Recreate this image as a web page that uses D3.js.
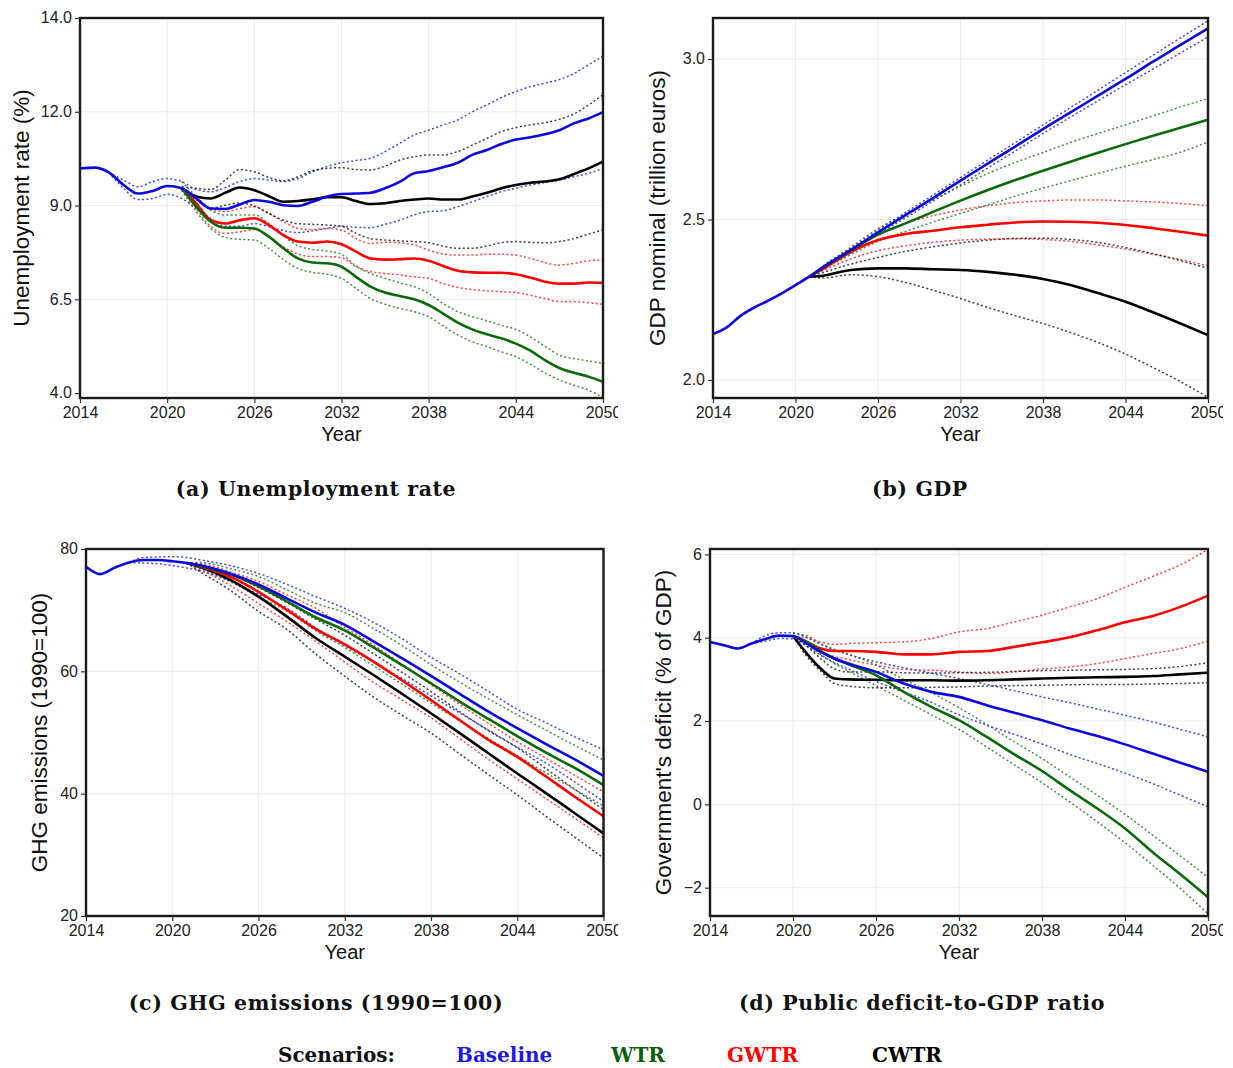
<!DOCTYPE html>
<html>
<head>
<meta charset="utf-8">
<script src="https://cdn.jsdelivr.net/npm/d3@7"></script>
<style>
  body { margin: 0; background: #fff; }
  svg { display: block; }
</style>
</head>
<body>
<svg id="chart" width="1233" height="1068"></svg>
<script>
// ---- shared ----
const scenarios = ["Baseline", "WTR", "GWTR", "CWTR"];
const lineColors = ["#0a0ae0", "#0a6a0a", "#ff0000", "#000000"];
const legendColors = ["#1a1ae6", "#0b5e0b", "#ff0000", "#000000"];
const xTicks = [2014, 2020, 2026, 2032, 2038, 2044, 2050];

// ---- (a) Unemployment rate ----
const yearsA = [2014,2015,2016,2017,2018,2019,2020,2021,2022,2023,2024,2025,2026,2027,2028,2029,2030,2031,2032,
  2033,2034,2035,2036,2037,2038,2039,2040,2041,2042,2043,2044,2045,2046,2047,2048,2049,2050];
const N = null;
const baseA = [9.99,10.01,9.88,9.55,9.32,9.39,9.52,9.46,9.19,8.92,8.91,9.03,9.15,9.10,9.01,8.99,9.10,9.24,9.31,
  9.32,9.34,9.46,9.63,9.86,9.92,10.02,10.14,10.35,10.48,10.64,10.76,10.82,10.90,11.01,11.19,11.32,11.49];
const baseHiA = [N,N,9.88,9.68,9.50,9.64,9.72,9.64,9.43,9.37,9.48,9.64,9.72,9.68,9.64,9.72,9.90,10.04,10.14,
  10.20,10.26,10.44,10.66,10.88,11.01,11.15,11.28,11.50,11.68,11.88,12.04,12.17,12.26,12.36,12.52,12.75,12.99];
const baseLoA = [N,N,9.88,9.46,9.16,9.19,9.30,9.19,8.92,8.66,8.45,8.45,8.52,8.44,8.33,8.28,8.33,8.39,8.45,
  8.42,8.41,8.50,8.61,8.75,8.84,8.86,8.97,9.10,9.24,9.37,9.46,9.55,9.61,9.68,9.77,9.86,9.99];
const wtrA = [N,N,N,N,N,N,N,9.46,8.97,8.57,8.41,8.41,8.39,8.17,7.86,7.59,7.48,7.46,7.37,
  7.10,6.84,6.68,6.59,6.50,6.35,6.12,5.88,5.70,5.57,5.46,5.32,5.13,4.88,4.67,4.54,4.44,4.30];
const wtrHiA = [N,N,N,N,N,N,N,9.64,9.24,8.88,8.75,8.75,8.75,8.52,8.19,7.93,7.83,7.79,7.70,
  7.39,7.19,7.06,6.94,6.84,6.66,6.39,6.17,6.04,5.93,5.81,5.70,5.50,5.25,5.01,4.92,4.86,4.79];
const wtrLoA = [N,N,N,N,N,N,N,9.41,8.84,8.39,8.15,8.10,8.08,7.86,7.56,7.32,7.22,7.17,7.06,
  6.79,6.52,6.37,6.26,6.17,6.04,5.79,5.55,5.37,5.24,5.10,4.97,4.77,4.54,4.35,4.21,4.08,3.88];
const gwtrA = [N,N,N,N,N,N,N,9.46,9.06,8.61,8.52,8.61,8.66,8.48,8.21,8.04,8.01,8.04,7.97,
  7.77,7.59,7.56,7.57,7.59,7.53,7.39,7.26,7.22,7.21,7.21,7.17,7.08,6.97,6.92,6.92,6.95,6.94];
const gwtrHiA = [N,N,N,N,N,N,N,9.46,9.24,8.90,8.84,8.92,8.97,8.79,8.57,8.39,8.36,8.39,8.35,
  8.12,7.99,8.02,8.01,7.95,7.81,7.71,7.68,7.68,7.70,7.70,7.68,7.59,7.48,7.41,7.46,7.53,7.55];
const gwtrLoA = [N,N,N,N,N,N,N,9.46,8.92,8.44,8.26,8.30,8.36,8.17,7.90,7.71,7.64,7.64,7.61,
  7.37,7.24,7.19,7.15,7.10,7.06,6.92,6.82,6.76,6.73,6.70,6.68,6.61,6.52,6.44,6.44,6.41,6.37];
const cwtrA = [N,N,N,N,N,N,N,9.46,9.24,9.19,9.34,9.48,9.41,9.25,9.10,9.12,9.17,9.22,9.22,
  9.12,9.04,9.06,9.12,9.16,9.19,9.16,9.16,9.24,9.34,9.46,9.55,9.61,9.64,9.70,9.84,9.99,10.17];
const cwtrHiA = [N,N,N,N,N,N,N,9.50,9.46,9.43,9.68,9.96,9.90,9.75,9.66,9.77,9.93,9.99,10.01,
  9.96,9.95,10.05,10.21,10.30,10.35,10.35,10.44,10.61,10.79,10.97,11.08,11.15,11.21,11.30,11.44,11.68,11.95];
const cwtrLoA = [N,N,N,N,N,N,N,9.41,9.15,8.92,9.01,9.07,8.99,8.79,8.61,8.52,8.50,8.48,8.45,
  8.26,8.12,8.08,8.06,8.04,8.01,7.92,7.86,7.86,7.92,8.01,8.04,8.02,8.01,8.04,8.12,8.24,8.35];
const yTicksA = [4, 6.5, 9, 11.5, 14];
const yTickLabelsA = ["4.0", "6.5", "9.0", "12.0", "14.0"];

// ---- (b) GDP ----
const yearsB = [2014,2015,2016,2017,2018,2019,2020,2021,2022,2024,2026,2028,2030,2032,2034,2036,2038,2040,2042,2044,2046,2048,2050];
const baseB = [2.143,2.164,2.200,2.226,2.247,2.270,2.296,2.322,2.351,2.405,2.460,2.514,2.567,2.621,2.675,2.728,2.782,2.834,2.886,2.938,2.992,3.044,3.096];
const baseHiB = [N,N,N,N,N,N,N,2.322,2.353,2.409,2.467,2.522,2.576,2.631,2.686,2.740,2.795,2.849,2.903,2.958,3.012,3.066,3.119];
const baseLoB = [N,N,N,N,N,N,N,2.322,2.349,2.401,2.455,2.505,2.557,2.608,2.661,2.714,2.768,2.819,2.870,2.920,2.969,3.019,3.069];
const wtrB = [N,N,N,N,N,N,N,2.322,2.351,2.403,2.453,2.488,2.524,2.559,2.592,2.623,2.652,2.680,2.708,2.735,2.761,2.786,2.811];
const wtrHiB = [N,N,N,N,N,N,N,2.322,2.356,2.413,2.472,2.517,2.562,2.604,2.644,2.678,2.709,2.740,2.768,2.795,2.823,2.851,2.877];
const wtrLoB = [N,N,N,N,N,N,N,2.322,2.346,2.390,2.432,2.463,2.492,2.519,2.546,2.573,2.598,2.621,2.644,2.666,2.687,2.710,2.742];
const gwtrB = [N,N,N,N,N,N,N,2.322,2.346,2.398,2.436,2.455,2.465,2.476,2.484,2.491,2.494,2.493,2.490,2.483,2.473,2.462,2.450];
const gwtrHiB = [N,N,N,N,N,N,N,2.322,2.351,2.408,2.455,2.488,2.512,2.530,2.543,2.553,2.558,2.561,2.561,2.558,2.555,2.550,2.543];
const gwtrLoB = [N,N,N,N,N,N,N,2.322,2.341,2.377,2.403,2.418,2.429,2.436,2.439,2.440,2.438,2.432,2.421,2.408,2.392,2.375,2.356];
const cwtrB = [N,N,N,N,N,N,N,2.322,2.325,2.343,2.348,2.348,2.345,2.343,2.337,2.328,2.315,2.296,2.271,2.244,2.211,2.176,2.140];
const cwtrHiB = [N,N,N,N,N,N,N,2.322,2.335,2.361,2.382,2.401,2.415,2.427,2.436,2.441,2.442,2.438,2.429,2.413,2.394,2.372,2.348];
const cwtrLoB = [N,N,N,N,N,N,N,2.322,2.318,2.328,2.322,2.304,2.280,2.254,2.226,2.200,2.176,2.148,2.117,2.081,2.039,1.995,1.946];
const yTicksB = [2.0, 2.5, 3.0];
const yTickLabelsB = ["2.0", "2.5", "3.0"];

// ---- (c) GHG emissions ----
const yearsC = yearsB;
const baseC = [77.1,75.9,76.95,77.8,78.2,78.2,78.0,77.7,77.3,76.0,74.2,71.9,69.6,67.6,64.9,62.1,59.25,56.3,53.4,50.7,48.1,45.6,42.9];
const baseHiC = [N,N,N,77.8,78.6,78.7,78.75,78.6,78.2,77.3,76.0,74.2,72.2,70.3,68.0,65.3,62.3,59.6,56.7,53.8,51.6,49.3,47.2];
const baseLoC = [N,N,N,77.8,77.7,77.6,77.3,76.9,76.4,74.8,72.6,70.3,67.1,64.2,61.5,58.8,56.0,53.2,50.4,47.6,45.0,41.9,38.7];
const wtrC = [N,N,N,N,N,N,N,77.7,77.2,75.9,73.9,71.4,68.8,66.7,63.9,61.0,58.05,55.05,52.2,49.4,46.7,44.2,41.4];
const wtrHiC = [N,N,N,N,N,N,N,77.7,77.8,76.8,75.5,73.3,71.1,69.6,67.0,64.2,61.1,58.2,55.5,52.9,50.4,47.9,45.5];
const wtrLoC = [N,N,N,N,N,N,N,77.7,76.8,74.7,72.2,69.8,66.6,63.9,60.9,57.9,54.8,51.9,49.0,46.2,43.4,40.7,38.0];
const gwtrC = [N,N,N,N,N,N,N,77.7,77.1,75.5,73.0,70.0,66.9,64.4,61.6,58.5,55.3,52.0,48.8,46.0,42.8,39.5,36.3];
const gwtrHiC = [N,N,N,N,N,N,N,77.7,77.6,76.3,74.7,72.5,70.3,67.2,64.3,61.1,57.8,54.6,51.5,48.5,45.8,43.0,40.3];
const gwtrLoC = [N,N,N,N,N,N,N,77.7,76.6,74.1,71.1,68.1,64.9,61.5,58.2,55.3,52.4,49.0,45.6,42.4,39.2,36.0,32.8];
const cwtrC = [N,N,N,N,N,N,N,77.7,77.0,75.0,72.2,68.9,65.4,62.4,59.4,56.3,53.15,49.9,46.6,43.3,40.1,36.8,33.5];
const cwtrHiC = [N,N,N,N,N,N,N,77.7,77.4,75.9,73.7,71.2,68.5,65.9,62.9,59.8,56.7,53.4,50.3,47.5,44.1,40.7,37.4];
const cwtrLoC = [N,N,N,N,N,N,N,77.7,76.2,73.3,69.8,66.8,62.8,59.2,55.8,52.8,49.9,46.5,43.1,39.8,36.3,32.9,29.5];
const yTicksC = [20, 40, 60, 80];
const yTickLabelsC = ["20", "40", "60", "80"];

// ---- (d) Public deficit-to-GDP ratio ----
const yearsD = [2014,2015,2016,2017,2018,2019,2020,2021,2022,2023,2024,2026,2028,2030,2032,2034,2036,2038,2040,2042,2044,2046,2048,2050];
const baseD = [3.90,3.82,3.74,3.86,3.97,4.05,4.04,3.86,3.66,3.50,3.38,3.18,2.90,2.70,2.58,2.38,2.20,2.02,1.82,1.64,1.44,1.22,1.00,0.78];
const baseHiD = [N,N,N,3.86,4.05,4.12,4.12,4.00,3.85,3.70,3.60,3.42,3.28,3.15,3.02,2.88,2.73,2.58,2.44,2.29,2.14,1.98,1.80,1.62];
const baseLoD = [N,N,N,3.86,3.92,3.98,3.97,3.80,3.58,3.40,3.25,2.95,2.70,2.45,2.15,1.90,1.68,1.45,1.20,0.98,0.75,0.50,0.22,-0.06];
const wtrD = [N,N,N,N,N,N,4.04,3.90,3.68,3.50,3.36,3.10,2.70,2.34,2.02,1.62,1.20,0.80,0.34,-0.10,-0.58,-1.15,-1.68,-2.23];
const wtrHiD = [N,N,N,N,N,N,4.10,4.05,3.85,3.72,3.60,3.35,3.00,2.68,2.32,1.92,1.50,1.10,0.66,0.22,-0.24,-0.74,-1.24,-1.75];
const wtrLoD = [N,N,N,N,N,N,4.00,3.85,3.60,3.38,3.20,2.85,2.50,2.15,1.80,1.38,0.95,0.52,0.06,-0.42,-0.92,-1.46,-2.02,-2.63];
const gwtrD = [N,N,N,N,N,N,4.04,3.90,3.74,3.68,3.68,3.66,3.60,3.60,3.66,3.68,3.78,3.89,4.01,4.18,4.37,4.52,4.74,5.01];
const gwtrHiD = [N,N,N,N,N,N,4.04,4.00,3.90,3.84,3.86,3.88,3.90,3.98,4.14,4.22,4.38,4.54,4.74,4.94,5.21,5.47,5.75,6.12];
const gwtrLoD = [N,N,N,N,N,N,4.04,3.85,3.65,3.55,3.48,3.34,3.24,3.22,3.18,3.14,3.18,3.25,3.30,3.38,3.50,3.62,3.74,3.92];
const cwtrD = [N,N,N,N,N,N,4.04,3.62,3.26,3.02,3.00,2.99,2.98,2.98,2.97,2.98,3.00,3.02,3.04,3.05,3.06,3.08,3.12,3.16];
const cwtrHiD = [N,N,N,N,N,N,4.04,3.80,3.50,3.25,3.18,3.18,3.16,3.15,3.16,3.17,3.19,3.21,3.22,3.23,3.24,3.26,3.31,3.40];
const cwtrLoD = [N,N,N,N,N,N,4.04,3.55,3.20,2.90,2.84,2.80,2.80,2.81,2.82,2.84,2.85,2.86,2.87,2.88,2.88,2.89,2.90,2.92];
const yTicksD = [-2, 0, 2, 4, 6];
const yTickLabelsD = ["\u22122", "0", "2", "4", "6"];

const svg = d3.select("#chart");
const sans = "'Liberation Sans', Arial, sans-serif";
const serif = "'DejaVu Serif', 'Liberation Serif', serif";

function drawPanel(p) {
  const g = svg.append("g").attr("clip-path", `url(#${p.id}-clip)`);
  svg.append("clipPath").attr("id", p.id + "-clip")
    .append("rect").attr("x", p.box.left - 80).attr("y", p.box.top - 10)
    .attr("width", p.clipRight - p.box.left + 80).attr("height", p.box.bottom - p.box.top + 70);

  const x = d3.scaleLinear().domain([2014, 2050]).range([p.box.left, p.box.right]);
  const y = d3.scaleLinear().domain(p.yDomain).range([p.box.bottom, p.box.top]);

  // grid
  g.append("g").selectAll("line").data(xTicks).join("line")
    .attr("x1", d => x(d)).attr("x2", d => x(d))
    .attr("y1", p.box.top).attr("y2", p.box.bottom)
    .attr("stroke", "#ececec").attr("stroke-width", 1);
  g.append("g").selectAll("line").data(p.yTicks).join("line")
    .attr("x1", p.box.left).attr("x2", p.box.right)
    .attr("y1", d => y(d)).attr("y2", d => y(d))
    .attr("stroke", "#ececec").attr("stroke-width", 1);

  const line = d3.line()
    .defined(d => d[1] != null)
    .x(d => x(d[0])).y(d => y(d[1]))
    .curve(d3.curveMonotoneX);
  const pts = arr => p.years.map((yr, i) => [yr, arr[i]]);

  // dotted bounds
  p.series.forEach((s, k) => {
    [s.hi, s.lo].forEach(arr => {
      g.append("path").attr("d", line(pts(arr)))
        .attr("fill", "none").attr("stroke", lineColors[k])
        .attr("stroke-width", 1.5).attr("stroke-opacity", 0.75)
        .attr("stroke-dasharray", "2,2.4");
    });
    const last = p.years.length - 1;
    g.append("line")
      .attr("x1", x(2050)).attr("x2", x(2050))
      .attr("y1", y(s.hi[last])).attr("y2", y(s.lo[last]))
      .attr("stroke", lineColors[k]).attr("stroke-width", 1.5)
      .attr("stroke-opacity", 0.75).attr("stroke-dasharray", "2,2.4");
  });
  // mean lines, baseline drawn last
  [3, 2, 1, 0].forEach(k => {
    g.append("path").attr("d", line(pts(p.series[k].mean)))
      .attr("fill", "none").attr("stroke", lineColors[k])
      .attr("stroke-width", 2.6).attr("stroke-linejoin", "round");
  });

  // frame
  g.append("rect")
    .attr("x", p.box.left).attr("y", p.box.top)
    .attr("width", p.box.right - p.box.left).attr("height", p.box.bottom - p.box.top)
    .attr("fill", "none").attr("stroke", "#1a1a1a").attr("stroke-width", 2.4);

  // axes
  const ax = g.append("g").attr("transform", `translate(0,${p.box.bottom})`)
    .call(d3.axisBottom(x).tickValues(xTicks).tickFormat(d3.format("d")).tickSize(5).tickPadding(4));
  const ay = g.append("g").attr("transform", `translate(${p.box.left},0)`)
    .call(d3.axisLeft(y).tickValues(p.yTicks).tickFormat((d, i) => p.yLabels[i]).tickSize(5).tickPadding(3));
  [ax, ay].forEach(a => {
    a.select(".domain").remove();
    a.selectAll(".tick line").attr("stroke", "#333").attr("stroke-width", 1.2);
    a.selectAll(".tick text").attr("fill", "#222")
      .style("font-family", sans).style("font-size", "16px");
  });
  ay.selectAll(".tick text").attr("dy", "0.30em");

  g.append("text")
    .attr("x", (p.box.left + p.box.right) / 2).attr("y", p.box.bottom + 43)
    .attr("text-anchor", "middle").attr("fill", "#111")
    .style("font-family", sans).style("font-size", "20px").text("Year");
  g.append("text")
    .attr("transform", `translate(${p.titleX},${(p.box.top + p.box.bottom) / 2}) rotate(-90)`)
    .attr("text-anchor", "middle").attr("fill", "#111")
    .style("font-family", sans).style("font-size", "22.5px").text(p.yTitle);

  svg.append("text")
    .attr("x", p.captionX).attr("y", p.captionY)
    .attr("text-anchor", "middle").attr("fill", "#111")
    .style("font-family", serif).style("font-weight", "bold").style("font-size", "20.5px")
    .style("letter-spacing", "0.6px")
    .text(p.caption);
}

drawPanel({
  id: "pa", years: yearsA, yDomain: [3.87, 14], yTicks: yTicksA, yLabels: yTickLabelsA,
  box: { left: 80, right: 603, top: 18, bottom: 398 }, clipRight: 618,
  series: [
    { mean: baseA, hi: baseHiA, lo: baseLoA },
    { mean: wtrA, hi: wtrHiA, lo: wtrLoA },
    { mean: gwtrA, hi: gwtrHiA, lo: gwtrLoA },
    { mean: cwtrA, hi: cwtrHiA, lo: cwtrLoA }
  ],
  yTitle: "Unemployment rate (%)", titleX: 29,
  caption: "(a) Unemployment rate", captionX: 316, captionY: 496
});
drawPanel({
  id: "pb", years: yearsB, yDomain: [1.944, 3.128], yTicks: yTicksB, yLabels: yTickLabelsB,
  box: { left: 713, right: 1208, top: 18, bottom: 398 }, clipRight: 1223,
  series: [
    { mean: baseB, hi: baseHiB, lo: baseLoB },
    { mean: wtrB, hi: wtrHiB, lo: wtrLoB },
    { mean: gwtrB, hi: gwtrHiB, lo: gwtrLoB },
    { mean: cwtrB, hi: cwtrHiB, lo: cwtrLoB }
  ],
  yTitle: "GDP nominal (trillion euros)", titleX: 665,
  caption: "(b) GDP", captionX: 920, captionY: 496
});
drawPanel({
  id: "pc", years: yearsC, yDomain: [20, 80], yTicks: yTicksC, yLabels: yTickLabelsC,
  box: { left: 86, right: 603.5, top: 549, bottom: 916 }, clipRight: 618,
  series: [
    { mean: baseC, hi: baseHiC, lo: baseLoC },
    { mean: wtrC, hi: wtrHiC, lo: wtrLoC },
    { mean: gwtrC, hi: gwtrHiC, lo: gwtrLoC },
    { mean: cwtrC, hi: cwtrHiC, lo: cwtrLoC }
  ],
  yTitle: "GHG emissions (1990=100)", titleX: 47,
  caption: "(c) GHG emissions (1990=100)", captionX: 316, captionY: 1010
});
drawPanel({
  id: "pd", years: yearsD, yDomain: [-2.68, 6.13], yTicks: yTicksD, yLabels: yTickLabelsD,
  box: { left: 710, right: 1208, top: 549, bottom: 916 }, clipRight: 1223,
  series: [
    { mean: baseD, hi: baseHiD, lo: baseLoD },
    { mean: wtrD, hi: wtrHiD, lo: wtrLoD },
    { mean: gwtrD, hi: gwtrHiD, lo: gwtrLoD },
    { mean: cwtrD, hi: cwtrHiD, lo: cwtrLoD }
  ],
  yTitle: "Government's deficit (% of GDP)", titleX: 671,
  caption: "(d) Public deficit-to-GDP ratio", captionX: 922, captionY: 1010
});

// legend
const legendX = [456, 611, 727, 872];
svg.append("text").attr("x", 278).attr("y", 1062)
  .attr("fill", "#111").style("font-family", serif).style("font-weight", "bold").style("font-size", "20px")
  .text("Scenarios:");
svg.append("g").selectAll("text").data(scenarios).join("text")
  .attr("x", (d, i) => legendX[i]).attr("y", 1062)
  .attr("fill", (d, i) => legendColors[i])
  .style("font-family", serif).style("font-weight", "bold").style("font-size", "20px")
  .text(d => d);
</script>
</body>
</html>
